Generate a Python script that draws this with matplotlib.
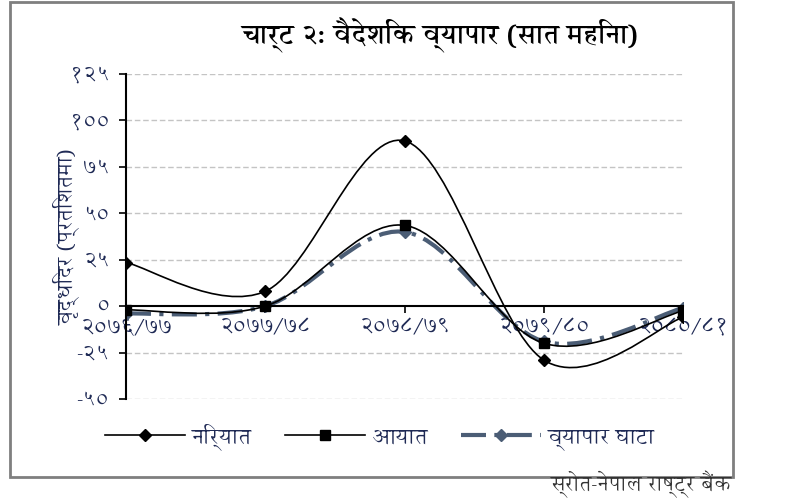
import numpy as np
import matplotlib
matplotlib.use("Agg")
import matplotlib.pyplot as plt
from matplotlib import font_manager
from matplotlib.path import Path
from matplotlib.patches import PathPatch, Rectangle
from matplotlib.lines import Line2D

# ------------------------------------------------------------
# data
# ------------------------------------------------------------
years = ["२०७६/७७", "२०७७/७८", "२०७८/७९", "२०७९/८०", "२०८०/८१"]
exports = [23.5, 8.0, 89.0, -29.0, -6.0]
imports = [-2.0, 0.0, 43.5, -20.0, -2.5]
trade_deficit = [-4.0, 0.0, 40.0, -19.0, -1.0]

y_ticks = [-50, -25, 0, 25, 50, 75, 100, 125]

title = "चार्ट २: वैदेशिक व्यापार (सात महिना)"
y_label = "वृद्धिदर (प्रतिशतमा)"
series_names = ["निर्यात", "आयात", "व्यापार घाटा"]
source = "स्रोत-नेपाल राष्ट्र बैंक"


# ------------------------------------------------------------
# fonts
# ------------------------------------------------------------
installed = {f.name for f in font_manager.fontManager.ttflist}
families = [n for n in ["Annapurna SIL", "Noto Sans Devanagari", "Hind"]
            if n in installed]
plt.rcParams["font.family"] = families[:1] + ["DejaVu Sans"]

NEP_DIGITS = str.maketrans("0123456789-", "०१२३४५६७८९-")


def nep(v):
    return str(v).translate(NEP_DIGITS)


# ------------------------------------------------------------
# smoothed line (excel style bezier)
# ------------------------------------------------------------
def smooth_path(xs, ys):
    pts = np.column_stack([xs, ys]).astype(float)
    n = len(pts)
    verts = [pts[0]]
    codes = [Path.MOVETO]
    for i in range(n - 1):
        p_prev = pts[max(i - 1, 0)]
        p0 = pts[i]
        p1 = pts[i + 1]
        p_next = pts[min(i + 2, n - 1)]
        c1 = p0 + (p1 - p_prev) / 6.0
        c2 = p1 - (p_next - p0) / 6.0
        verts += [c1, c2, p1]
        codes += [Path.CURVE4] * 3
    return Path(verts, codes)


fig = plt.figure(figsize=(8, 4.99), dpi=100)
ax = fig.add_axes([0.1575, 0.2004, 0.69625, 0.6513])

# spine first: moving it resets the ticks
ax.spines["top"].set_visible(False)
ax.spines["right"].set_visible(False)
ax.spines["bottom"].set_position(("data", 0))
ax.spines["bottom"].set_linewidth(1.5)
ax.spines["left"].set_linewidth(1.5)

x = np.arange(len(years))

ink = "#1f2a55"
grey_blue = "#4b5d75"
deficit_ls = (0, (6, 2, 1, 2))

# exports
ax.add_patch(PathPatch(smooth_path(x, exports), fill=False,
                       edgecolor="black", lw=1.2, zorder=3))
ax.plot(x, exports, ls="none", marker="D", ms=6, color="black", zorder=4)

# imports
ax.add_patch(PathPatch(smooth_path(x, imports), fill=False,
                       edgecolor="black", lw=1.2, zorder=3))
ax.plot(x, imports, ls="none", marker="s", ms=7, color="black", zorder=4)

# deficit
ax.add_patch(PathPatch(smooth_path(x, trade_deficit), fill=False,
                       edgecolor=grey_blue, lw=3,
                       linestyle=deficit_ls, zorder=2))
ax.plot(x, trade_deficit, ls="none", marker="D", ms=6,
        color=grey_blue, zorder=2)

ax.set_xlim(0, len(years) - 1)
ax.set_ylim(-50, 125)

ax.set_yticks(y_ticks)
ax.set_yticklabels([nep(v) for v in y_ticks])
ax.set_xticks(x)
ax.set_xticklabels(years)

for v in y_ticks:
    if v != 0:
        ax.axhline(v, color="#c4c4c4", lw=1, ls=(0, (4, 2)), zorder=0)

ax.tick_params(axis="both", direction="out", length=5, width=1.2,
               labelcolor=ink)
ax.tick_params(axis="x", pad=3, labelsize=16.5)
ax.tick_params(axis="y", pad=7, labelsize=16)

ax.set_ylabel(y_label, fontsize=15.5, color=ink)
ax.yaxis.set_label_coords(-0.083, 0.5)

fig.text(0.55, 0.93, title, ha="center", va="center",
         fontsize=19.5, fontweight="bold")

handles = [
    Line2D([], [], color="black", lw=1.2, marker="D", ms=6),
    Line2D([], [], color="black", lw=1.2, marker="s", ms=7),
    Line2D([], [], color=grey_blue, lw=3, ls=deficit_ls,
           marker="D", ms=6),
]
leg = fig.legend(handles, series_names, loc="center", ncol=3,
                 bbox_to_anchor=(0.475, 0.125), frameon=False,
                 fontsize=16, handlelength=3.6, columnspacing=1.5,
                 handletextpad=0.3)
for t in leg.get_texts():
    t.set_color(ink)

# chart border
fig.patches.append(Rectangle((10 / 800, 22 / 499), 723 / 800, 475 / 499,
                             transform=fig.transFigure, fill=False,
                             edgecolor="#7f7f7f", lw=2))

fig.text(732 / 800, 1 / 499, source, ha="right", va="bottom",
         fontsize=15, color="#333333")

fig.savefig("out.png", dpi=100)
